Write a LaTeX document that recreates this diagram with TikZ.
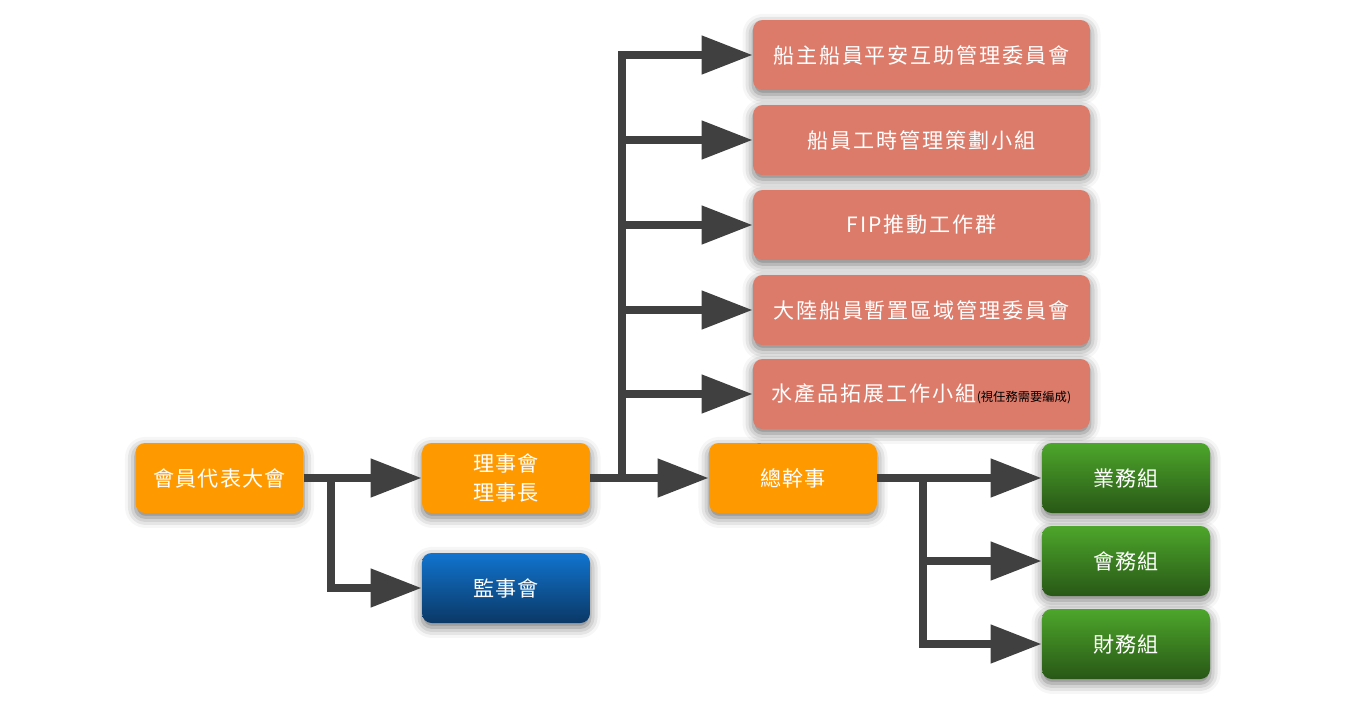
\documentclass[tikz,border=0pt]{standalone}
\usepackage{fontspec}
\setmainfont{Noto Sans CJK TC}
\newfontfamily\boxfont[LetterSpace=5]{Noto Sans CJK TC}
\newfontfamily\widefont[LetterSpace=9]{Noto Sans CJK TC}
\newfontfamily\notefont{Noto Sans CJK TC}
\usetikzlibrary{arrows.meta,shadows.blur}

\definecolor{boxorange}{HTML}{FF9900}
\definecolor{boxred}{HTML}{DC7B6A}
\definecolor{greentop}{HTML}{4DA62B}
\definecolor{greenbot}{HTML}{285716}
\definecolor{bluetop}{HTML}{1174CE}
\definecolor{bluebot}{HTML}{0A3865}
\definecolor{linegray}{HTML}{404040}

\tikzset{
  box/.style={rounded corners=5.5pt, minimum width=3.36cm, minimum height=1.4cm,
    text=white, font=\boxfont\fontsize{12}{16}\selectfont,
    blur shadow={shadow xshift=0pt, shadow yshift=-2.5pt, shadow blur radius=6pt, shadow opacity=55}},
  orangebox/.style={box, fill=boxorange},
  redbox/.style={box, fill=boxred, minimum width=6.74cm, font=\widefont\fontsize{12}{16}\selectfont},
  greenbox/.style={box, top color=greentop, bottom color=greenbot},
  bluebox/.style={box, top color=bluetop, bottom color=bluebot},
  conn/.style={draw=linegray, line width=4.5pt, -{Triangle[length=29pt,width=21pt]}}
}

\begin{document}
\begin{tikzpicture}[x=0.02cm,y=-0.02cm]
\useasboundingbox (0,0) rectangle (1362,717);
% left side
\node [orangebox] (assembly) at (219.5,478) {會員代表大會};
\node [orangebox, align=center] (board) at (506,478) {理事會\\理事長};
\node [bluebox] (supervisors) at (506,588) {監事會};
\node [orangebox] (secretary) at (793,478) {總幹事};
% committees
\node [redbox] (c1) at (921.5,55) {船主船員平安互助管理委員會};
\node [redbox] (c2) at (921.5,140) {船員工時管理策劃小組};
\node [redbox] (c3) at (921.5,225) {FIP推動工作群};
\node [redbox] (c4) at (921.5,310) {大陸船員暫置區域管理委員會};
\node [redbox] (c5) at (921.5,394) {水產品拓展工作小組{\notefont\fontsize{7}{8}\selectfont\color{black}(視任務需要編成)}};
% groups
\node [greenbox] (g1) at (1126,478) {業務組};
\node [greenbox] (g2) at (1126,561) {會務組};
\node [greenbox] (g3) at (1126,644) {財務組};
\coordinate (j1) at (331,478);
\coordinate (j2) at (622,478);
\coordinate (j3) at (923,478);
\draw [conn] (assembly) -- (board);
\draw [conn] (j1) |- (supervisors);
\draw [conn] (board) -- (secretary);
\foreach \c in {c1,c2,c3,c4,c5}
  \draw [conn] (j2) |- (\c);
\draw [conn] (secretary) -- (g1);
\draw [conn] (j3) |- (g2);
\draw [conn] (j3) |- (g3);
\end{tikzpicture}
\end{document}
